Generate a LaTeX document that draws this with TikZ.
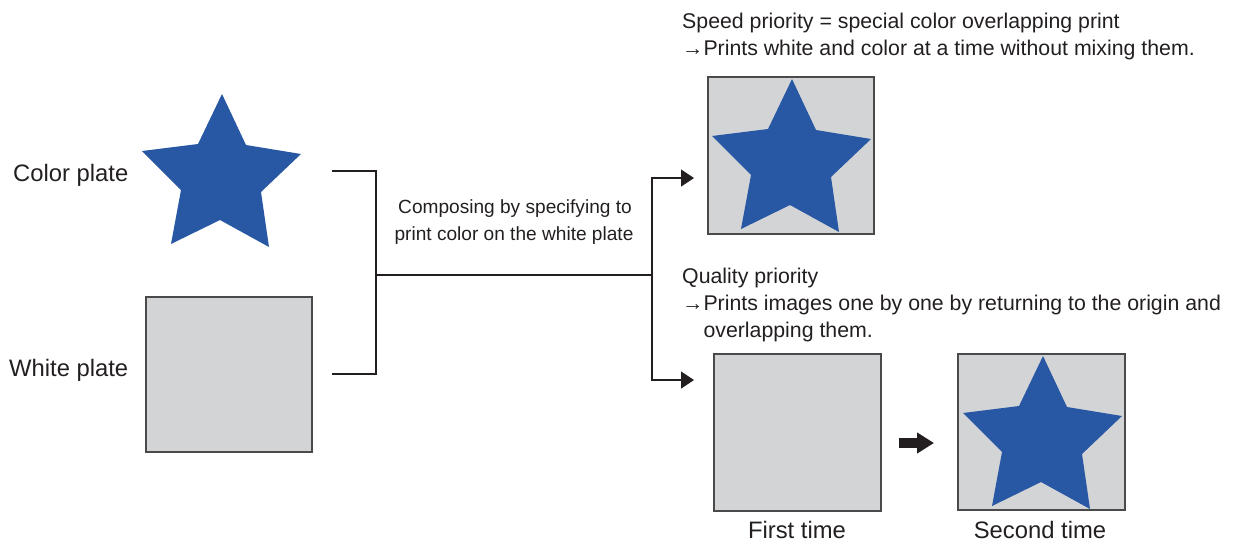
\documentclass[tikz,border=0pt]{standalone}
\usepackage{fontspec}
\setmainfont{Liberation Sans}
\usetikzlibrary{arrows.meta}
\definecolor{starblue}{HTML}{2857A4}
\definecolor{platefill}{HTML}{D3D4D6}
\definecolor{plateline}{HTML}{4A4A4A}
\definecolor{ink}{HTML}{231F20}
\newcommand{\bigfont}{\fontsize{23.8}{28}\selectfont}
\newcommand{\midfont}{\fontsize{21.3}{27}\selectfont}
\newcommand{\smallfnt}{\fontsize{19.1}{27}\selectfont}
\newcommand{\drawstar}[1]{%
  \fill[starblue,shift={(#1)}] (0,0) -- (24,51) -- (79,60) -- (39,98) -- (47,153)
    -- (-2,126) -- (-51,150) -- (-41,96) -- (-80,57) -- (-24,50) -- cycle;}
\begin{document}
\begin{tikzpicture}[x=1pt,y=-1pt,
  plate/.style={draw=plateline,fill=platefill,line width=1.3pt,inner sep=0pt},
  conn/.style={draw=ink,line width=1.3pt},
  arr/.style={conn,-{Triangle[length=13pt,width=17pt]}},
  lbl/.style={inner sep=0pt,anchor=base west,text=ink},
  lblc/.style={inner sep=0pt,anchor=base,text=ink}]
\useasboundingbox (0,0) rectangle (1233,542);
% plates
\drawstar{222,94}
\node[plate,minimum width=166pt,minimum height=155pt] (white) at (229,374.5) {};
\node[plate,minimum width=166pt,minimum height=157pt] (speed) at (791,155.5) {};
\drawstar{792,79}
\node[plate,minimum width=167pt,minimum height=157pt] (first) at (797.5,432.5) {};
\node[plate,minimum width=167pt,minimum height=156pt] (second) at (1041.5,432) {};
\drawstar{1043,356}
% labels
\node[lbl,font=\bigfont] (lcolor) at (13,181) {Color plate};
\node[lbl,font=\bigfont] (lwhite) at (9,376) {White plate};
\node[lblc,font=\bigfont] (lfirst) at (797,538) {First time};
\node[lblc,font=\bigfont] (lsecond) at (1040,538) {Second time};
\node[lblc,font=\smallfnt] (lcompose) at (515,213) {Composing by specifying to};
\node[lblc,font=\smallfnt] (lcompose2) at (514,240) {print color on the white plate};
\node[lbl,font=\midfont] (ls1) at (682,28) {Speed priority = special color overlapping print};
\node[lbl,font=\midfont] (ls2) at (682,55) {→Prints white and color at a time without mixing them.};
\node[lbl,font=\midfont] (lq1) at (682,283) {Quality priority};
\node[lbl,font=\midfont] (lq2) at (682,310) {→Prints images one by one by returning to the origin and};
\node[lbl,font=\midfont] (lq3) at (682,337) {\hphantom{→}overlapping them.};
% connectors
\coordinate (c1) at (332,171);
\coordinate (c2) at (332,374);
\coordinate (j) at (376,275);
\coordinate (k) at (652,275);
\coordinate (t1) at (694,178);
\coordinate (t2) at (694,380);
\draw[conn] (c1) -| (j);
\draw[conn] (c2) -| (j);
\draw[conn] (j) -- (k);
\draw[arr] (k) |- (t1);
\draw[arr] (k) |- (t2);
% big arrow
\coordinate (ba) at (899,443);
\coordinate (bb) at (934,443);
\draw[ink,line width=10pt,-{Triangle[length=17pt,width=20pt]}] (ba) -- (bb);
\end{tikzpicture}
\end{document}
